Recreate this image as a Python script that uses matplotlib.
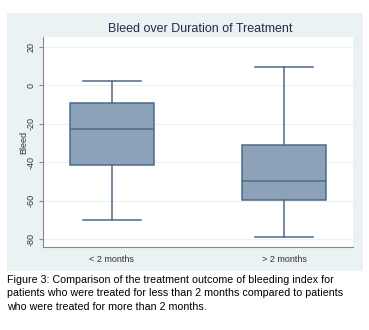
import matplotlib; matplotlib.use("Agg")
import matplotlib.pyplot as plt
from matplotlib.patches import Rectangle

plt.rcParams["font.family"] = ["Liberation Sans", "DejaVu Sans"]

groups = ["< 2 months", "> 2 months"]
whislo = [-70, -79]
q1 = [-41.5, -59.7]
med = [-22.9, -49.9]
q3 = [-9.4, -31.2]
whishi = [2, 9.3]
yticks = [20, 0, -20, -40, -60, -80]
caption = ("Figure 3: Comparison of the treatment outcome of bleeding index for\n"
           "patients who were treated for less than 2 months compared to patients\n"
           "who were treated for more than 2 months.")

W, H = 369, 330
fig = plt.figure(figsize=(W / 100, H / 100), dpi=100)
fig.patches.append(Rectangle((7 / W, 1 - 271 / H), 356 / W, 258 / H, transform=fig.transFigure,
                             facecolor="#eaf2f3", edgecolor="none", zorder=-10))
ax = fig.add_axes([43 / W, 1 - 247 / H, 310 / W, 210 / H])
ax.set_zorder(2)
ax.set_facecolor("white")

stats = [dict(whislo=a, q1=b, med=c, q3=d, whishi=e, fliers=[], label=g)
         for a, b, c, d, e, g in zip(whislo, q1, med, q3, whishi, groups)]
edge = "#4e6a86"
ax.bxp(stats, positions=[0, 1], widths=0.49, patch_artist=True, showfliers=False,
       boxprops=dict(facecolor="#8ca2b8", edgecolor=edge, linewidth=1.1),
       medianprops=dict(color=edge, linewidth=1.1),
       whiskerprops=dict(color=edge, linewidth=1.1),
       capprops=dict(color=edge, linewidth=1.1), capwidths=0.34)

ax.set_xlim(-0.40, 1.40)
ax.set_ylim(-84, 25)
ax.set_yticks(yticks)
ax.set_yticklabels([str(t) for t in yticks], rotation=90, va="center", fontsize=6.5)
ax.set_xticks([0, 1])
ax.set_xticklabels(groups, fontsize=6.5, color="#333333")
ax.tick_params(axis="x", length=0, pad=6)
ax.tick_params(axis="y", length=3, color="#888888", pad=2, labelcolor="#333333")
ax.yaxis.grid(True, color="#eaf2f3", linewidth=0.8)
ax.set_axisbelow(True)
for s in ["top", "right"]:
    ax.spines[s].set_visible(False)
for s in ["left", "bottom"]:
    ax.spines[s].set_color("#888888")
    ax.spines[s].set_linewidth(0.8)
ax.set_ylabel("Bleed", fontsize=6.5, color="#333333", labelpad=-1)
fig.text(200 / W, 1 - 29 / H, "Bleed over Duration of Treatment", ha="center", va="center",
         fontsize=9, color="#1e2d4e")
fig.text(7 / W, 1 - 275 / H, caption, ha="left", va="top", fontsize=7.7,
         linespacing=1.42, color="black")
fig.savefig("out.png", dpi=100)
